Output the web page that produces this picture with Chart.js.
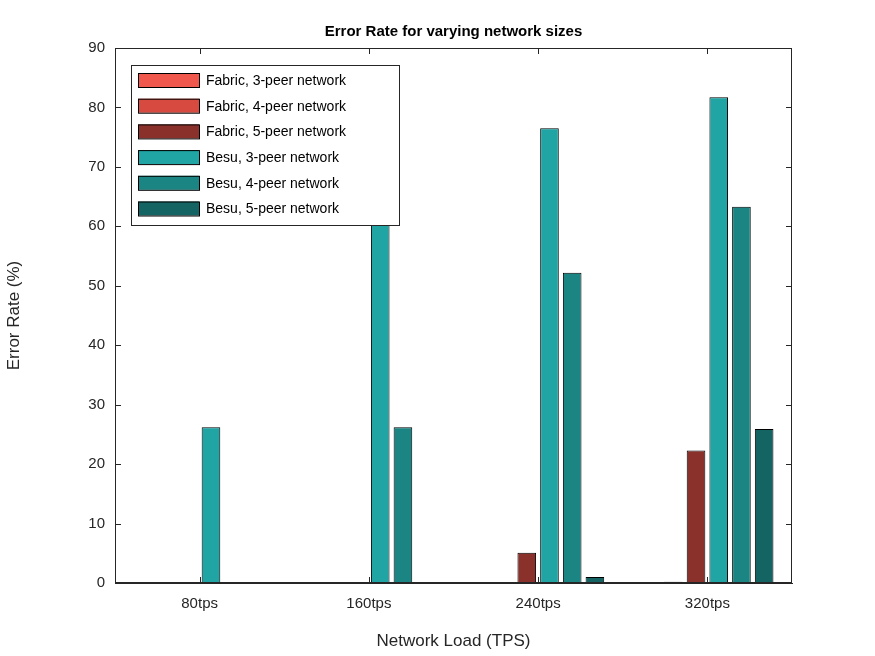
<!DOCTYPE html>
<html>
<head>
<meta charset="utf-8">
<script src="https://cdn.jsdelivr.net/npm/chart.js@4.4.0/dist/chart.umd.min.js"></script>
<style>
  body { margin: 0; background: #fff; }
  #wrap { width: 875px; height: 656px; position: relative; }
</style>
</head>
<body>
<div id="wrap"><canvas id="c"></canvas></div>
<script>
const categories = ["80tps", "160tps", "240tps", "320tps"];
const seriesNames = ["Fabric, 3-peer network", "Fabric, 4-peer network", "Fabric, 5-peer network",
                     "Besu, 3-peer network", "Besu, 4-peer network", "Besu, 5-peer network"];
const seriesColors = ["#F0584E", "#D64A40", "#8B312B", "#20A4A4", "#1A8583", "#136462"];
const fabric3 = [0, 0, 0, 0];
const fabric4 = [0, 0, 0, 0.2];
const fabric5 = [0, 0, 5.1, 22.3];
const besu3 = [26.2, 62.0, 76.5, 81.7];
const besu4 = [0, 26.2, 52.2, 63.3];
const besu5 = [0, 0, 1.0, 25.9];
const yTicks = [0, 10, 20, 30, 40, 50, 60, 70, 80, 90];
const allSeries = [fabric3, fabric4, fabric5, besu3, besu4, besu5];

const FONT = "'Liberation Sans', Arial, sans-serif";

const matlabLook = {
  id: 'matlabLook',
  afterDraw(chart) {
    const ctx = chart.ctx, a = chart.chartArea;
    const x = chart.scales.x, y = chart.scales.y;
    ctx.save();
    ctx.strokeStyle = '#262626';
    ctx.lineWidth = 1;
    ctx.strokeRect(a.left + 0.5, a.top + 0.5, a.right - a.left - 1, a.bottom - a.top - 1);
    ctx.beginPath();
    yTicks.forEach(v => {
      const py = Math.round(y.getPixelForValue(v)) + 0.5;
      ctx.moveTo(a.left, py); ctx.lineTo(a.left + 6, py);
      ctx.moveTo(a.right, py); ctx.lineTo(a.right - 6, py);
    });
    categories.forEach((c, i) => {
      const px = Math.round(x.getPixelForValue(i)) + 0.5;
      ctx.moveTo(px, a.bottom); ctx.lineTo(px, a.bottom - 6);
      ctx.moveTo(px, a.top); ctx.lineTo(px, a.top + 6);
    });
    ctx.stroke();

    // title
    ctx.fillStyle = '#000';
    ctx.font = 'bold 15px ' + FONT;
    ctx.textAlign = 'center';
    ctx.textBaseline = 'middle';
    ctx.fillText('Error Rate for varying network sizes', (a.left + a.right) / 2, 32);

    // legend inside the axes
    const lx = 131, ly = 65, lw = 268, lh = 160;
    ctx.fillStyle = '#fff';
    ctx.fillRect(lx, ly, lw, lh);
    ctx.strokeStyle = '#262626';
    ctx.strokeRect(lx + 0.5, ly + 0.5, lw, lh);
    ctx.font = '14px ' + FONT;
    ctx.textAlign = 'left';
    seriesNames.forEach((n, i) => {
      const cy = ly + 15 + i * 25.7;
      ctx.fillStyle = seriesColors[i];
      ctx.fillRect(138, cy - 7, 61, 14);
      ctx.strokeStyle = '#000';
      ctx.strokeRect(138.5, cy - 6.5, 61, 14);
      ctx.fillStyle = '#000';
      ctx.fillText(n, 206, cy + 1);
    });
    ctx.restore();
  }
};

new Chart(document.getElementById('c'), {
  type: 'bar',
  data: {
    labels: categories,
    datasets: allSeries.map((d, i) => ({
      label: seriesNames[i],
      data: d,
      backgroundColor: seriesColors[i],
      borderColor: '#000',
      borderWidth: 1,
      borderSkipped: false,
      categoryPercentage: 0.805,
      barPercentage: 0.82
    }))
  },
  options: {
    responsive: true,
    maintainAspectRatio: false,
    animation: false,
    layout: { padding: { left: 0, right: 83, top: 48, bottom: 0 } },
    plugins: { legend: { display: false }, title: { display: false }, tooltip: { enabled: false } },
    scales: {
      x: {
        grid: { display: false, drawTicks: false },
        border: { color: '#262626' },
        ticks: { color: '#262626', font: { family: FONT, size: 15 }, padding: 12 },
        title: { display: true, text: 'Network Load (TPS)', color: '#262626',
                 font: { family: FONT, size: 17 }, padding: { top: 4 } },
        afterFit(s) { s.height = 73; }
      },
      y: {
        min: 0, max: 90,
        afterBuildTicks(s) { s.ticks = yTicks.map(v => ({ value: v })); },
        grid: { display: false, drawTicks: false },
        border: { color: '#262626' },
        ticks: { color: '#262626', font: { family: FONT, size: 15 }, padding: 10 },
        title: { display: true, text: 'Error Rate (%)', color: '#262626',
                 font: { family: FONT, size: 17 }, padding: { bottom: 10 } },
        afterFit(s) { s.width = 115; }
      }
    }
  },
  plugins: [matlabLook]
});
</script>
</body>
</html>
